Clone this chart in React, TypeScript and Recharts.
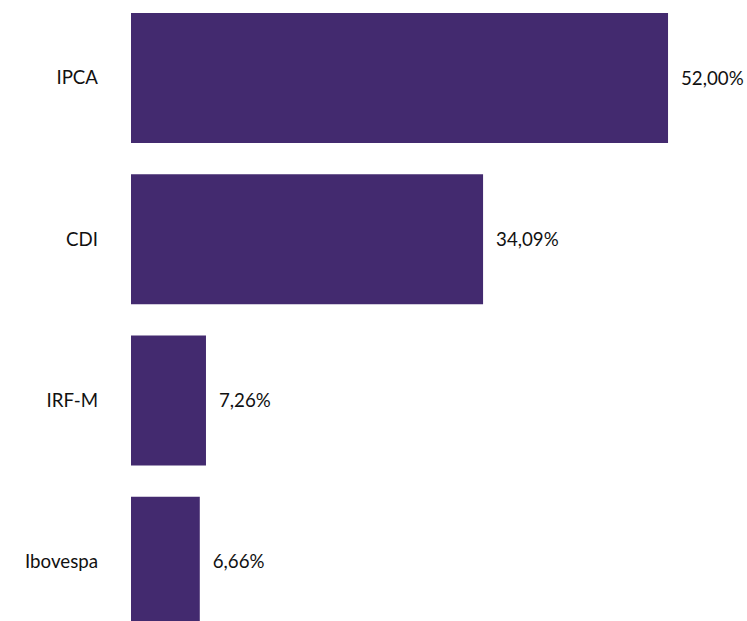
import { BarChart, Bar, XAxis, YAxis, LabelList } from 'recharts'

const categories = ['IPCA', 'CDI', 'IRF-M', 'Ibovespa']
const shares = [52.0, 34.09, 7.26, 6.66]

const data = categories.map((name, i) => ({ name, value: shares[i] }))

const formatPct = (v: unknown) => `${Number(v).toFixed(2).replace('.', ',')}%`

export default function App() {
  return (
    <div style={{ position: 'absolute', left: 0, top: -3, fontFamily: 'Lato, sans-serif' }}>
      <BarChart
        width={747}
        height={645}
        data={data}
        layout="vertical"
        margin={{ top: 0, right: 17, bottom: 0, left: 0 }}
        barSize={130}
      >
        <XAxis type="number" domain={[0, 58]} hide />
        <YAxis
          type="category"
          dataKey="name"
          width={131}
          axisLine={false}
          tickLine={false}
          tickSize={0}
          tickMargin={33}
          tick={{ fill: '#111', fontSize: 18.7, fontFamily: 'Lato' }}
        />
        <Bar dataKey="value" fill="#432a6f" isAnimationActive={false}>
          <LabelList
            dataKey="value"
            position="right"
            offset={13}
            formatter={formatPct}
            style={{ fill: '#111', fontSize: 18.7, fontFamily: 'Lato' }}
          />
        </Bar>
      </BarChart>
    </div>
  )
}
